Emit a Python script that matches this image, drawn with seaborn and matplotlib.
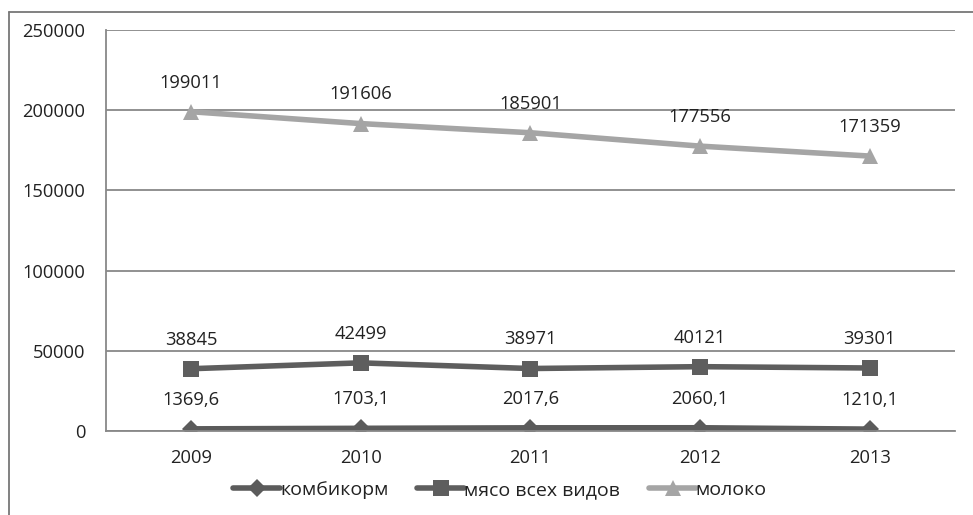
import pandas as pd
import numpy as np
import matplotlib.pyplot as plt
import seaborn as sns
from matplotlib.lines import Line2D

years = ["2009", "2010", "2011", "2012", "2013"]
kombikorm = [1369.6, 1703.1, 2017.6, 2060.1, 1210.1]
myaso = [38845, 42499, 38971, 40121, 39301]
moloko = [199011, 191606, 185901, 177556, 171359]
series_names = ["комбикорм", "мясо всех видов", "молоко"]

sns.set_style("white")
plt.rcParams["font.family"] = ["Open Sans", "DejaVu Sans"]

rows = []
for name, vals in zip(series_names, [kombikorm, myaso, moloko]):
    for i, v in enumerate(vals):
        rows.append({"pos": i, "value": v, "series": name})
df = pd.DataFrame(rows)

colors = {"комбикорм": "#5b5b5b", "мясо всех видов": "#5e5e5e", "молоко": "#a5a5a5"}
markers = {"комбикорм": "D", "мясо всех видов": "s", "молоко": "^"}
msizes = {"комбикорм": 9, "мясо всех видов": 12, "молоко": 12}
fs = 13.2

fig = plt.figure(figsize=(9.73, 5.15), dpi=100)
ax = fig.add_axes([0.109, 0.163, 0.872, 0.779])

for name in series_names:
    sub = df[df["series"] == name]
    sns.lineplot(data=sub, x="pos", y="value", ax=ax, color=colors[name],
                 linewidth=4, marker=markers[name], markersize=msizes[name],
                 markeredgewidth=0, legend=False)
    for _, r in sub.iterrows():
        txt = f"{r['value']:.1f}".replace(".", ",") if name == "комбикорм" else f"{int(r['value'])}"
        ax.annotate(txt, (r["pos"], r["value"]), xytext=(0, 21), textcoords="offset points",
                    ha="center", va="center", fontsize=fs, color="#222222")

ax.set_xlim(-0.5, 4.5)
ax.set_ylim(0, 250000)
ax.set_yticks(np.arange(0, 250001, 50000))
ax.set_yticklabels([str(v) for v in range(0, 250001, 50000)], fontsize=fs, color="#222222")
ax.set_xticks(np.arange(-0.5, 4.6, 1))
ax.set_xticklabels([])
ax.set_xticks(range(5), minor=True)
ax.set_xticklabels(years, minor=True, fontsize=fs, color="#222222")
ax.tick_params(axis="x", which="major", length=6, color="#888888", width=1.2, direction="out")
ax.tick_params(axis="x", which="minor", length=0, pad=13)
ax.tick_params(axis="y", length=6, color="#888888", width=1.2, direction="out", pad=9)
ax.set_xlabel("")
ax.set_ylabel("")
ax.grid(axis="y", color="#888888", linewidth=1.3)
ax.set_axisbelow(True)
for s in ["top", "right"]:
    ax.spines[s].set_visible(False)
ax.spines["left"].set_color("#888888")
ax.spines["left"].set_linewidth(1.3)
ax.spines["bottom"].set_color("#888888")
ax.spines["bottom"].set_linewidth(1.3)

handles = [Line2D([0], [0], color=colors[n], linewidth=4, marker=markers[n],
                  markersize=msizes[n], markeredgewidth=0) for n in series_names]
fig.legend(handles, series_names, loc="center", bbox_to_anchor=(0.514, 0.048), ncol=3,
           frameon=False, fontsize=14, handlelength=2.4, handletextpad=0.0, columnspacing=1.5,
           labelcolor="#222222")

# outer chart border (left and top edges visible)
fig.add_artist(Line2D([0.0093, 0.0093], [0.0, 0.977], color="#777777", linewidth=1.3,
                      transform=fig.transFigure))
fig.add_artist(Line2D([0.0093, 1.0], [0.977, 0.977], color="#777777", linewidth=1.3,
                      transform=fig.transFigure))

fig.savefig("out.png", dpi=100)
